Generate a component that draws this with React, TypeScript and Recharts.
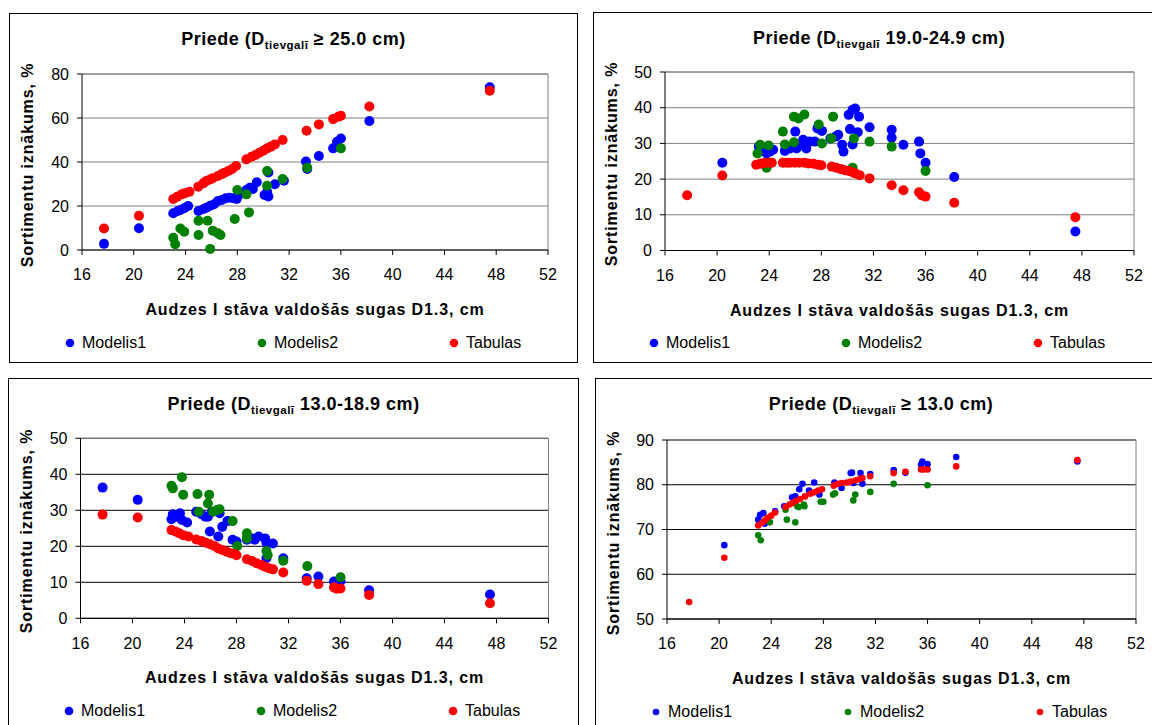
import { ScatterChart, Scatter, XAxis, YAxis, CartesianGrid, ReferenceLine } from 'recharts'

type Pt = [number, number]

const FONT = 'Arial, "Liberation Sans", sans-serif'
const xTicks = [16, 20, 24, 28, 32, 36, 40, 44, 48, 52]
const seriesNames = ['Modelis1', 'Modelis2', 'Tabulas']
const seriesColors = ['#0000ff', '#008000', '#ff0000']

// Priede, D tievgalī >= 25.0 cm
const p1Modelis1: Pt[] = [
  [17.7, 2.8], [20.4, 9.9], [23.05, 16.7], [23.4, 17.7], [23.6, 18.2], [23.9, 19.0], [24.2, 20.0],
  [25.0, 17.7], [25.4, 18.6], [25.6, 19.2], [25.9, 20.1], [26.2, 20.8], [26.5, 22.3], [26.8, 22.7],
  [27.1, 23.5], [27.4, 23.8], [27.7, 23.5], [27.95, 23.2], [28.1, 25.0], [28.7, 27.3], [28.97, 28.3],
  [29.2, 27.7], [29.5, 30.8], [30.1, 25.0], [30.3, 26.5], [30.4, 24.3], [30.4, 35.2], [30.9, 29.9],
  [31.6, 31.5], [33.3, 40.2], [33.4, 36.8], [34.3, 42.7], [35.4, 46.2], [35.7, 49.2], [36.0, 50.7],
  [38.2, 58.6], [47.5, 74.0],
]
const p1Modelis2: Pt[] = [
  [23.05, 5.6], [23.2, 2.6], [23.6, 9.8], [23.9, 8.3], [25.0, 13.3], [25.0, 6.8], [25.7, 13.3],
  [25.9, 0.5], [26.1, 8.8], [26.5, 7.6], [26.7, 6.8], [27.8, 14.1], [28.0, 27.3], [28.7, 25.3],
  [28.9, 17.1], [30.3, 35.9], [30.3, 29.2], [31.5, 32.3], [33.4, 37.4], [36.0, 46.2],
]
const p1Tabulas: Pt[] = [
  [17.7, 9.8], [20.4, 15.6], [23.05, 23.2], [23.36, 24.2], [23.7, 25.3], [23.95, 25.8], [24.3, 26.5],
  [24.98, 28.8], [25.37, 30.3], [25.6, 31.4], [25.9, 32.1], [26.1, 32.6], [26.5, 33.6], [26.8, 34.5],
  [27.0, 35.1], [27.3, 35.9], [27.6, 36.8], [27.9, 38.2], [28.7, 41.2], [29.1, 42.4], [29.4, 43.2],
  [29.7, 44.2], [30.0, 45.1], [30.3, 46.2], [30.6, 47.0], [30.9, 48.0], [31.5, 50.0], [33.35, 54.2],
  [34.3, 57.1], [35.4, 59.5], [35.8, 60.6], [36.0, 61.0], [38.2, 65.2], [47.5, 72.4],
]

// Priede, D tievgalī 19.0-24.9 cm
const p2Modelis1: Pt[] = [
  [20.4, 24.6], [23.2, 29.1], [23.4, 28.2], [23.8, 27.2], [24.05, 27.7], [24.3, 28.2], [25.2, 27.9],
  [25.6, 28.6], [26.0, 33.3], [26.1, 28.6], [26.4, 29.5], [26.6, 31.0], [26.85, 28.6], [27.1, 30.5],
  [27.5, 30.5], [27.7, 34.2], [28.05, 33.5], [28.7, 31.4], [29.1, 31.9], [29.3, 32.4], [29.6, 29.6],
  [29.7, 27.7], [30.1, 38.0], [30.4, 39.4], [30.6, 39.8], [30.2, 34.0], [30.4, 29.7], [30.9, 37.5],
  [30.8, 33.1], [31.7, 34.5], [33.4, 33.8], [33.4, 31.6], [34.3, 29.6], [35.5, 30.5], [35.6, 27.2],
  [36.0, 24.6], [38.2, 20.6], [47.5, 5.3],
]
const p2Modelis2: Pt[] = [
  [23.1, 27.2], [23.3, 29.6], [23.8, 23.2], [23.95, 29.4], [25.05, 33.3], [25.2, 29.7], [25.9, 30.3],
  [25.9, 37.5], [26.25, 37.0], [26.7, 38.1], [27.8, 35.3], [28.05, 30.0], [28.77, 31.4], [28.9, 37.5],
  [30.4, 23.2], [30.5, 31.4], [31.7, 30.5], [33.4, 29.1], [36.0, 22.3],
]
const p2Tabulas: Pt[] = [
  [17.7, 15.5], [20.4, 21.0], [23.0, 24.0], [23.3, 24.3], [23.5, 24.4], [23.7, 24.6], [24.0, 24.6],
  [24.2, 24.6], [25.05, 24.6], [25.35, 24.6], [25.6, 24.6], [25.95, 24.6], [26.3, 24.6], [26.7, 24.6],
  [27.0, 24.4], [27.4, 24.3], [27.75, 24.0], [28.0, 23.9], [28.8, 23.5], [29.15, 23.2], [29.5, 22.8],
  [29.8, 22.5], [30.1, 22.3], [30.4, 21.9], [30.6, 21.6], [30.95, 21.1], [31.7, 20.2], [33.4, 18.3],
  [34.3, 16.9], [35.5, 16.3], [35.7, 15.5], [36.0, 15.1], [38.2, 13.4], [47.5, 9.3],
]

// Priede, D tievgalī 13.0-18.9 cm
const p3Modelis1: Pt[] = [
  [17.7, 36.3], [20.4, 32.9], [23.0, 27.5], [23.1, 28.9], [23.4, 28.2], [23.65, 29.2], [23.8, 27.3],
  [24.2, 26.6], [24.9, 29.6], [25.3, 28.9], [25.6, 28.2], [25.8, 28.2], [26.1, 29.6], [26.7, 29.2],
  [25.95, 24.1], [26.6, 22.7], [26.9, 25.4], [27.3, 27.0], [27.7, 21.8], [28.0, 21.3], [28.8, 21.8],
  [29.2, 22.2], [29.4, 21.8], [29.7, 22.7], [30.2, 22.2], [30.3, 21.0], [30.8, 20.8], [30.3, 16.7],
  [31.6, 16.7], [33.4, 11.1], [34.3, 11.6], [35.5, 10.2], [35.7, 9.8], [36.0, 10.3], [38.2, 7.8],
  [47.5, 6.6],
]
const p3Modelis2: Pt[] = [
  [23.0, 36.8], [23.1, 36.1], [23.8, 39.2], [23.9, 34.3], [25.0, 34.5], [25.1, 29.6], [25.9, 34.3],
  [25.8, 31.9], [26.2, 29.6], [26.5, 30.1], [26.7, 30.3], [27.7, 27.0], [28.06, 20.1], [28.8, 23.6],
  [28.8, 22.2], [30.3, 18.7], [30.4, 17.6], [31.6, 16.0], [33.45, 14.5], [36.0, 11.4],
]
const p3Tabulas: Pt[] = [
  [17.7, 28.8], [20.4, 28.0], [23.0, 24.5], [23.3, 24.1], [23.6, 23.6], [23.9, 23.1], [24.3, 22.7],
  [24.9, 21.9], [25.3, 21.5], [25.65, 21.0], [25.96, 20.6], [26.3, 20.1], [26.6, 19.4], [26.9, 19.0],
  [27.25, 18.5], [27.55, 18.1], [27.9, 17.8], [28.0, 17.5], [28.8, 16.4], [29.2, 15.9], [29.55, 15.3],
  [29.9, 14.8], [30.2, 14.3], [30.5, 13.9], [30.8, 13.6], [31.6, 12.7], [33.4, 10.4], [34.3, 9.5],
  [35.5, 8.6], [35.7, 8.2], [36.0, 8.3], [38.2, 6.5], [47.5, 4.2],
]

// Priede, D tievgalī >= 13.0 cm
const p4Modelis1: Pt[] = [
  [20.4, 66.5], [23.0, 72.2], [23.15, 73.3], [23.4, 73.7], [23.5, 71.3], [23.7, 72.2], [24.3, 74.1],
  [25.0, 75.2], [25.6, 77.2], [25.85, 77.4], [26.15, 79.0], [26.4, 80.2], [26.9, 78.7], [27.3, 80.5],
  [27.7, 77.8], [28.85, 80.5], [29.4, 79.3], [30.1, 82.6], [30.2, 82.7], [30.3, 80.4], [30.85, 82.6],
  [31.0, 80.2], [31.6, 82.4], [33.4, 83.3], [34.3, 82.7], [35.5, 84.5], [35.6, 85.2], [36.0, 84.6],
  [38.2, 86.2], [47.5, 85.2],
]
const p4Modelis2: Pt[] = [
  [23.0, 68.7], [23.2, 67.6], [23.9, 71.6], [25.1, 74.4], [25.2, 72.2], [25.85, 71.6], [26.0, 75.2],
  [26.1, 75.0], [26.5, 75.6], [26.55, 75.2], [27.8, 76.2], [28.0, 76.2], [28.75, 77.8], [28.9, 78.1],
  [30.3, 76.5], [30.45, 77.8], [31.6, 78.4], [33.4, 80.2], [36.0, 79.9],
]
const p4Tabulas: Pt[] = [
  [17.7, 53.8], [20.4, 63.7], [23.0, 70.9], [23.3, 71.5], [23.5, 72.0], [23.7, 72.6], [24.0, 73.1],
  [24.3, 73.8], [25.1, 75.0], [25.4, 75.6], [25.65, 75.9], [25.9, 76.4], [26.2, 76.8], [26.6, 77.4],
  [27.0, 78.0], [27.3, 78.3], [27.6, 78.7], [27.9, 79.0], [28.8, 79.8], [29.1, 80.2], [29.4, 80.4],
  [29.8, 80.5], [30.1, 80.7], [30.5, 81.0], [30.8, 81.3], [31.0, 81.5], [31.6, 81.9], [33.4, 82.6],
  [34.3, 82.9], [35.5, 83.4], [35.7, 83.4], [36.0, 83.4], [38.2, 84.1], [47.5, 85.5],
]

type PanelProps = {
  left: number
  top: number
  width: number
  height: number
  suffix: string
  yDomain: [number, number]
  yTicks: number[]
  series: Pt[][]
  plotLeft: number
  plotRight: number
  plotTop: number
  plotBottom: number
  gridColor: string
  dot: number
}

const toPoints = (pts: Pt[]) => pts.map(([x, y]) => ({ x, y }))

function Panel(p: PanelProps) {
  const xAxisH = 30
  const yAxisW = 40
  const tickStyle = { fill: '#000', fontSize: 16, fontFamily: FONT }
  const plotMid = (p.plotLeft + p.plotRight) / 2
  return (
    <div style={{ position: 'absolute', left: p.left, top: p.top, width: p.width, height: p.height, background: '#fff' }}>
      <div style={{ position: 'absolute', inset: 0, border: '1px solid #000', boxSizing: 'border-box' }} />
      <div style={{ position: 'absolute', left: 0, top: 0 }}>
        <ScatterChart
          width={p.width}
          height={p.height}
          margin={{
            top: p.plotTop,
            right: p.width - p.plotRight,
            bottom: p.height - p.plotBottom - xAxisH,
            left: p.plotLeft - yAxisW,
          }}
        >
          <CartesianGrid horizontal vertical={false} stroke={p.gridColor} />
          <XAxis type="number" dataKey="x" domain={[16, 52]} ticks={xTicks} interval={0} height={xAxisH}
            tickSize={5} tickMargin={14} axisLine={{ stroke: '#000' }} tickLine={{ stroke: '#000' }} tick={tickStyle} />
          <YAxis type="number" dataKey="y" domain={p.yDomain} ticks={p.yTicks} interval={0} width={yAxisW}
            tickSize={5} tickMargin={8} axisLine={{ stroke: '#000' }} tickLine={{ stroke: '#000' }} tick={tickStyle} />
          <ReferenceLine x={52} stroke="#808080" />
          <ReferenceLine y={p.yDomain[1]} stroke="#808080" />
          {p.series.map((s, i) => (
            <Scatter key={seriesNames[i]} name={seriesNames[i]} data={toPoints(s)} isAnimationActive={false}
              shape={(d: any) => <circle cx={d.cx} cy={d.cy} r={p.dot} fill={seriesColors[i]} />} />
          ))}
        </ScatterChart>
      </div>
      <div style={{ position: 'absolute', left: 0, width: p.width, top: 16, lineHeight: '20px', textAlign: 'center',
        fontSize: 18, fontWeight: 'bold', letterSpacing: 0.5, whiteSpace: 'nowrap' }}>
        Priede (D<span style={{ fontSize: 11.5, position: 'relative', top: 4 }}>tievgalī</span>{p.suffix}
      </div>
      <div style={{ position: 'absolute', left: 19, top: (p.plotTop + p.plotBottom) / 2 + 3, transform: 'translate(-50%, -50%) rotate(-90deg)',
        fontSize: 16, fontWeight: 'bold', letterSpacing: 0.9, whiteSpace: 'nowrap', lineHeight: '20px' }}>
        Sortimentu iznākums, %
      </div>
      <div style={{ position: 'absolute', left: plotMid - 250, width: 500, top: p.plotBottom + 50, lineHeight: '20px', textAlign: 'center',
        fontSize: 16, fontWeight: 'bold', letterSpacing: 0.9, whiteSpace: 'nowrap' }}>
        Audzes I stāva valdošās sugas D1.3, cm
      </div>
      {seriesNames.map((name, i) => (
        <div key={name} style={{ position: 'absolute', left: 60.5 + i * 192 - 6, top: p.plotBottom + 82.7, height: 20,
          display: 'flex', alignItems: 'center', fontSize: 16, whiteSpace: 'nowrap' }}>
          <svg width={12} height={12} style={{ marginRight: 6.5 }}>
            <circle cx={6} cy={6} r={Math.min(p.dot, 4.3)} fill={seriesColors[i]} />
          </svg>
          {name}
        </div>
      ))}
    </div>
  )
}

export default function App() {
  return (
    <div style={{ position: 'absolute', left: 0, top: 0, width: 1152, height: 725, overflow: 'hidden', background: '#fff', fontFamily: FONT, color: '#000' }}>
      <Panel left={9} top={13} width={569} height={350} suffix=" ≥ 25.0 cm)" yDomain={[0, 80]} yTicks={[0, 20, 40, 60, 80]}
        series={[p1Modelis1, p1Modelis2, p1Tabulas]} plotLeft={73} plotRight={539} plotTop={61} plotBottom={237}
        gridColor="#808080" dot={5} />
      <Panel left={593} top={12} width={572} height={351} suffix=" 19.0-24.9 cm)" yDomain={[0, 50]} yTicks={[0, 10, 20, 30, 40, 50]}
        series={[p2Modelis1, p2Modelis2, p2Tabulas]} plotLeft={72} plotRight={541} plotTop={60} plotBottom={238.5}
        gridColor="#808080" dot={5} />
      <Panel left={8} top={378} width={571} height={360} suffix=" 13.0-18.9 cm)" yDomain={[0, 50]} yTicks={[0, 10, 20, 30, 40, 50]}
        series={[p3Modelis1, p3Modelis2, p3Tabulas]} plotLeft={72.5} plotRight={540.5} plotTop={60.3} plotBottom={240.3}
        gridColor="#000" dot={5} />
      <Panel left={595} top={378} width={572} height={360} suffix=" ≥ 13.0 cm)" yDomain={[50, 90]} yTicks={[50, 60, 70, 80, 90]}
        series={[p4Modelis1, p4Modelis2, p4Tabulas]} plotLeft={72} plotRight={541} plotTop={62} plotBottom={241}
        gridColor="#000" dot={3.3} />
    </div>
  )
}
